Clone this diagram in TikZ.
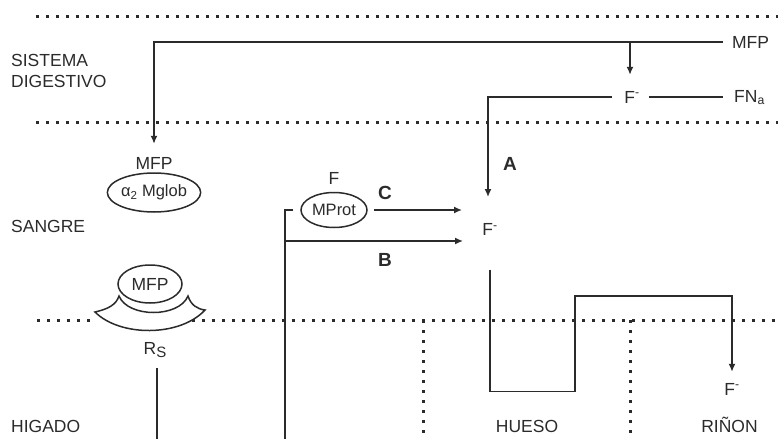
\documentclass[tikz,border=0pt]{standalone}
\usepackage{fontspec}
\setmainfont{Liberation Sans}
\usetikzlibrary{arrows.meta,positioning,shapes.geometric}
\definecolor{clInk}{HTML}{2B2B2B}
\tikzset{
  lbl/.style={font=\fontsize{17.5}{20}\selectfont, text=clInk, inner sep=1pt},
  zone/.style={lbl, anchor=base west},
  organ/.style={lbl, anchor=base},
  route/.style={font=\fontsize{19}{20}\selectfont\bfseries, text=clInk, inner sep=1pt},
  carrier/.style={ellipse, draw=clInk, line width=1.5pt, inner sep=0pt,
                  font=\fontsize{16.5}{18}\selectfont, text=clInk},
  link/.style={draw=clInk, line width=1.5pt},
  flow/.style={link, -{Latex[length=8pt,width=7pt]}},
  border/.style={draw=clInk, line width=3pt, dash pattern=on 3pt off 7pt},
}

\begin{document}
\begin{tikzpicture}[x=1pt, y=-1pt]
  \useasboundingbox (0,0) rectangle (778,439);
  % compartment borders
  \draw[border] (36,16) -- (778,16);
  \draw[border] (36,122) -- (778,122);
  \draw[border] (37,320) -- (97,320);
  \draw[border] (192,320) -- (778,320);
  \draw[border] (423,320) -- (423,439);
  \draw[border] (630,320) -- (630,439);

  % compartments
  \node[zone] (sistema) at (10,66) {SISTEMA};
  \node[zone] (digestivo) at (10,87.5) {DIGESTIVO};
  \node[zone] (sangre) at (10,232) {SANGRE};
  \node[zone] (higado) at (10,432.7) {HIGADO};
  \node[organ] (hueso) at (527,432.7) {HUESO};
  \node[organ] (rinon) at (729.5,432.7) {RIÑON};

  % digestive tract
  \node[lbl] (mfpgi) at (750.5,42) {MFP};
  \node[lbl] (fgi) at (632,97) {F\textsuperscript{-}};
  \node[lbl, anchor=base west] (fna) at (733,102) {FN\textsubscript{a}};

  % blood
  \node[carrier, minimum width=74pt, minimum height=39pt] (mglob) at (154,192.5) {α\textsubscript{2} Mglob};
  \node[lbl, above=2pt of mglob] (mfpbl) {MFP};
  \node[carrier, minimum width=66pt, minimum height=35pt] (mprot) at (334,210) {MProt};
  \node[lbl, above=6pt of mprot] (fprot) {F};
  \node[lbl] (fbl) at (490,229.5) {F\textsuperscript{-}};
  \node[route] (ra) at (510,163.5) {A};
  \node[route] (rc) at (385,192.5) {C};
  \node[route] (rb) at (385,260) {B};

  % liver receptor
  \draw[link] (95,312) .. controls (108,309) and (116,305) .. (119,296)
    .. controls (128,318) and (179,318) .. (188,296)
    .. controls (191,305) and (197,309) .. (205,310)
    .. controls (180,337) and (120,337) .. cycle;
  \node[carrier, font=\fontsize{17.5}{20}\selectfont, fill=white,
        minimum width=64pt, minimum height=38pt] (mfpliv) at (150,284) {MFP};
  \node[lbl, anchor=base] (rs) at (155,354) {R\raisebox{-3pt}{\fontsize{15}{15}\selectfont S}};

  % kidney
  \node[lbl] (fkid) at (732,389) {F\textsuperscript{-}};

  \coordinate (split) at (630,42);
  \coordinate (atip) at (488,197);
  \coordinate (cend) at (462,210);
  \coordinate (bstub) at (293,210);
  \coordinate (bknee) at (285,210);
  \coordinate (bfoot) at (285,439);
  \coordinate (btip) at (463,241);
  \coordinate (bonebot) at (575,391.5);
  \coordinate (bonetop) at (575,296);
  \coordinate (rsfoot) at (157,439);

  \draw[flow, shorten <=8pt] (mfpgi.west) -| ([yshift=12pt]mfpbl.north);
  \draw[flow, shorten >=15pt] (split) -- (split |- fgi.north);
  \draw[flow, shorten <=11pt] (fgi.west) -| (atip);
  \draw[link, shorten <=8pt, shorten >=10pt] (fgi.east) -- (fgi.east -| fna.west);
  \draw[flow, shorten <=6pt] (mprot.east) -- (cend);
  \draw[link] (bstub) -- (bknee) -- (bfoot);
  \draw[flow] (bknee |- btip) -- (btip);
  \draw[flow, shorten <=33pt, shorten >=10pt] (fbl.south) |- (bonebot) -- (bonetop) -| (fkid.north);
  \draw[link, shorten <=10pt] (rs.south -| rsfoot) -- (rsfoot);
\end{tikzpicture}
\end{document}
